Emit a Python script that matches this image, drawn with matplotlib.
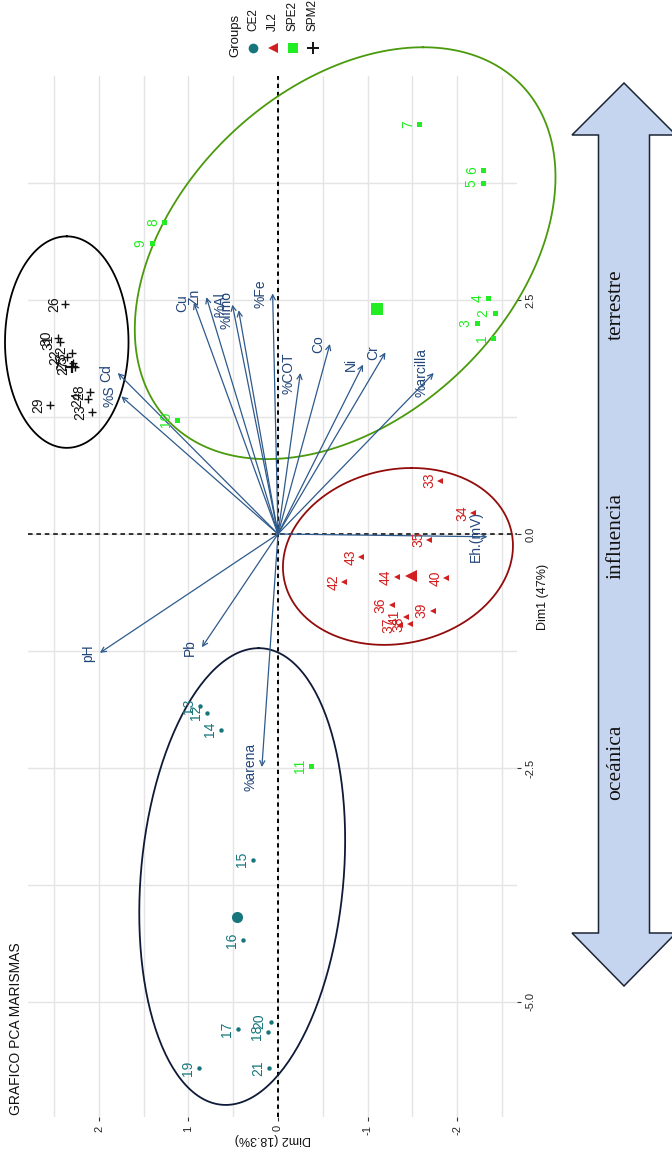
import numpy as np
import matplotlib
matplotlib.use("Agg")
import matplotlib.pyplot as plt
from matplotlib.patches import Polygon

plt.rcParams['font.family'] = ['Liberation Sans', 'DejaVu Sans']

# ---------------- data ----------------
groups = ["CE2", "JL2", "SPE2", "SPM2"]

ce2_labels = ["12", "13", "14", "15", "16", "17", "18", "19", "20", "21"]
ce2_dim1 = [-1.91, -1.84, -2.09, -3.48, -4.34, -5.29, -5.32, -5.71, -5.21, -5.71]
ce2_dim2 = [0.79, 0.87, 0.64, 0.28, 0.39, 0.45, 0.11, 0.88, 0.08, 0.10]

jl2_labels = ["33", "34", "35", "36", "37", "38", "39", "40", "41", "42", "43", "44"]
jl2_dim1 = [0.57, 0.22, -0.06, -0.76, -0.97, -0.96, -0.82, -0.47, -0.89, -0.51, -0.25, -0.46]
jl2_dim2 = [-1.81, -2.18, -1.69, -1.27, -1.36, -1.47, -1.73, -1.88, -1.43, -0.74, -0.93, -1.33]

spe2_labels = ["1", "2", "3", "4", "5", "6", "7", "8", "9", "10", "11"]
spe2_dim1 = [2.09, 2.36, 2.25, 2.52, 3.75, 3.89, 4.38, 3.33, 3.11, 1.22, -2.48]
spe2_dim2 = [-2.40, -2.42, -2.22, -2.35, -2.29, -2.29, -1.575, 1.27, 1.41, 1.13, -0.37]

spm2_labels = ["22", "23", "24", "25", "26", "27", "28", "29", "30", "31", "32"]
spm2_dim1 = [1.89, 1.30, 1.44, 1.83, 2.46, 1.78, 1.52, 1.38, 2.09, 2.05, 1.93]
spm2_dim2 = [2.36, 2.08, 2.12, 2.29, 2.38, 2.27, 2.10, 2.55, 2.46, 2.44, 2.30]

# group ellipses (centre, half extents along Dim1 / Dim2, correlation)
ell_center_dim1 = [-3.66, -0.24, 3.00, 2.05]
ell_center_dim2 = [0.40, -1.34, -0.75, 2.36]
ell_half_dim1 = [2.44, 0.945, 2.20, 1.13]
ell_half_dim2 = [1.15, 1.285, 2.35, 0.69]
ell_corr = [-0.16, -0.12, -0.37, 0.0]

var_names = ["Cu", "Zn", "%Al", "%limo", "%Fe", "%COT", "Co", "Ni", "Cr",
             "%arcilla", "Eh.(mV)", "Cd", "%S", "pH", "Pb", "%arena"]
var_dim1 = [2.47, 2.53, 2.45, 2.39, 2.57, 1.72, 2.03, 1.81, 1.94,
            1.72, -0.03, 1.72, 1.47, -1.27, -1.21, -2.49]
var_dim2 = [0.94, 0.80, 0.51, 0.44, 0.06, -0.25, -0.58, -0.95, -1.20,
            -1.74, -2.34, 1.79, 1.75, 1.99, 0.85, 0.18]

dim1_ticks = [-5.0, -2.5, 0.0, 2.5]
dim1_ticklabels = ["-5.0", "-2.5", "0.0", "2.5"]
dim2_ticks = [-2, -1, 0, 1, 2]
dim2_ticklabels = ["-2", "-1", "0", "1", "2"]

gradient_labels = ["terrestre", "influencia", "oceánica"]

# ---------------- styles ----------------
W, H = 672, 1153
point_cols = {"CE2": "#16767B", "JL2": "#D21E1E", "SPE2": "#22EC22", "SPM2": "#111111"}
ell_cols = {"CE2": "#0E1A38", "JL2": "#930C0C", "SPE2": "#4A9A0C", "SPM2": "#000000"}
markers = {"CE2": "o", "JL2": "<", "SPE2": "s", "SPM2": "+"}
msize = {"CE2": 3.2, "JL2": 4.0, "SPE2": 3.6, "SPM2": 6.0}
var_col = "#2E5A8C"
var_txt = "#22457A"

group_data = {
    "CE2": (ce2_labels, ce2_dim1, ce2_dim2),
    "JL2": (jl2_labels, jl2_dim1, jl2_dim2),
    "SPE2": (spe2_labels, spe2_dim1, spe2_dim2),
    "SPM2": (spm2_labels, spm2_dim1, spm2_dim2),
}


def ellipse_pts(c1, c2, s1, s2, r, seg=241):
    M = np.array([[s1 * s1, r * s1 * s2], [r * s1 * s2, s2 * s2]])
    L = np.linalg.cholesky(M)
    ang = np.linspace(0, 2 * np.pi, seg)
    circ = np.column_stack([np.cos(ang), np.sin(ang)])
    pts = np.array([c1, c2]) + circ @ L.T
    return pts[:, 0], pts[:, 1]


fig = plt.figure(figsize=(W / 100, H / 100), dpi=100)
fig.patch.set_facecolor("white")

# panel in pixel terms
px_left, px_right, px_top, px_bottom = 28, 517, 76, 1117
ax = fig.add_axes([px_left / W, 1 - px_bottom / H, (px_right - px_left) / W, (px_bottom - px_top) / H])
ax.set_facecolor("none")
ax.set_xlim(2.793, -2.670)   # Dim2, decreasing to the right
ax.set_ylim(-6.229, 4.893)   # Dim1

ax.set_xticks(dim2_ticks)
ax.set_xticklabels(dim2_ticklabels, rotation=90)
ax.set_xticks([-2.5, -1.5, -0.5, 0.5, 1.5, 2.5], minor=True)
ax.set_yticks(dim1_ticks)
ax.set_yticklabels(dim1_ticklabels, rotation=90, va="center")
ax.set_yticks([-3.75, -1.25, 1.25, 3.75], minor=True)
ax.yaxis.tick_right()
ax.tick_params(axis="both", which="major", length=3, width=0.8, color="#333333",
               labelsize=8, labelcolor="#222222", pad=3)
ax.tick_params(axis="both", which="minor", length=0)
ax.grid(which="both", color="#E4E4E4", lw=1.0, zorder=0)
ax.set_axisbelow(True)
for s in ax.spines.values():
    s.set_visible(False)

ax.axhline(0, color="black", lw=1.1, ls=(0, (3, 2.5)), zorder=1)
ax.axvline(0, color="black", lw=1.4, ls=(0, (2.2, 2.0)), zorder=1)

# variable arrows
for name, a1, a2 in zip(var_names, var_dim1, var_dim2):
    ax.annotate("", xy=(a2, a1), xytext=(0, 0),
                arrowprops=dict(arrowstyle="->", color=var_col, lw=0.9,
                                shrinkA=0, shrinkB=0, mutation_scale=9), zorder=3)
    ax.annotate(name, (a2, a1), xytext=(-8.5, 0), textcoords="offset points",
                rotation=90, ha="center", va="center", fontsize=10, color=var_txt, zorder=4)

# ellipses
for g, c1, c2, s1, s2, r in zip(groups, ell_center_dim1, ell_center_dim2,
                                 ell_half_dim1, ell_half_dim2, ell_corr):
    e1, e2 = ellipse_pts(c1, c2, s1, s2, r)
    ax.plot(e2, e1, color=ell_cols[g], lw=1.3, zorder=2, clip_on=False)

# points, labels, centroids
for g in groups:
    labs, d1, d2 = group_data[g]
    mk = markers[g]
    if mk == "+":
        ax.plot(d2, d1, ls="none", marker=mk, ms=msize[g], mew=1.0, color=point_cols[g], zorder=5)
    else:
        ax.plot(d2, d1, ls="none", marker=mk, ms=msize[g], mew=0, color=point_cols[g], zorder=5)
    for lab, a1, a2 in zip(labs, d1, d2):
        ax.annotate(lab, (a2, a1), xytext=(-8, 0), textcoords="offset points",
                    rotation=90, ha="center", va="center", fontsize=10,
                    color=point_cols[g], zorder=6)
    c1, c2 = np.mean(d1), np.mean(d2)
    if mk == "+":
        ax.plot([c2], [c1], ls="none", marker=mk, ms=9, mew=1.6, color=point_cols[g], zorder=5)
    else:
        ax.plot([c2], [c1], ls="none", marker=mk, ms=8, mew=0, color=point_cols[g], zorder=5)

# axis titles
ax.text(1.0 + 26 / (px_right - px_left), 0.5, "Dim1 (47%)", transform=ax.transAxes,
        rotation=90, ha="center", va="center", fontsize=9, color="#111111")
fig.text(273 / W, 1 - 1139 / H, "Dim2 (18.3%)", rotation=180, ha="center", va="center",
         fontsize=9, color="#111111")

# title
fig.text(16 / W, 1 - 1115 / H, "GRAFICO PCA MARISMAS", rotation=90, ha="center", va="bottom",
         fontsize=10, color="#111111")

# legend
fig.text(235 / W, 1 - 57 / H, "Groups", rotation=90, ha="center", va="bottom", fontsize=9.5,
         color="#111111")
leg_x = [253, 273, 293, 313]
lax = fig.add_axes([0, 0, 1, 1], zorder=10)
lax.set_xlim(0, W)
lax.set_ylim(H, 0)
lax.axis("off")
lax.patch.set_alpha(0)
for g, lx in zip(groups, leg_x):
    mk = markers[g]
    lax.plot([lx], [48], ls="none", marker=mk, ms=7 if mk != "+" else 9,
             mew=0 if mk != "+" else 1.4, color=point_cols[g])
    fig.text(lx / W, 1 - 31 / H, g, rotation=90, ha="center", va="bottom", fontsize=8.5,
             color="#111111")

# gradient block arrow (decoration)
cx, hw, sw = 624, 52, 25.5
tip_top, base_top, base_bot, tip_bot = 83, 135, 933, 986
arrow_shape = [(cx, tip_top), (cx + hw, base_top), (cx + sw, base_top), (cx + sw, base_bot),
               (cx + hw, base_bot), (cx, tip_bot), (cx - hw, base_bot), (cx - sw, base_bot),
               (cx - sw, base_top), (cx - hw, base_top)]
lax.add_patch(Polygon(arrow_shape, closed=True, facecolor="#C6D5EF", edgecolor="#1C2536",
                      lw=1.1, clip_on=False))
for txt, ty in zip(gradient_labels, [305, 536, 762]):
    lax.text(616, ty, txt, rotation=90, ha="center", va="center", fontsize=15.5,
             family="Liberation Serif", color="#111111")

fig.savefig("out.png", dpi=100)
